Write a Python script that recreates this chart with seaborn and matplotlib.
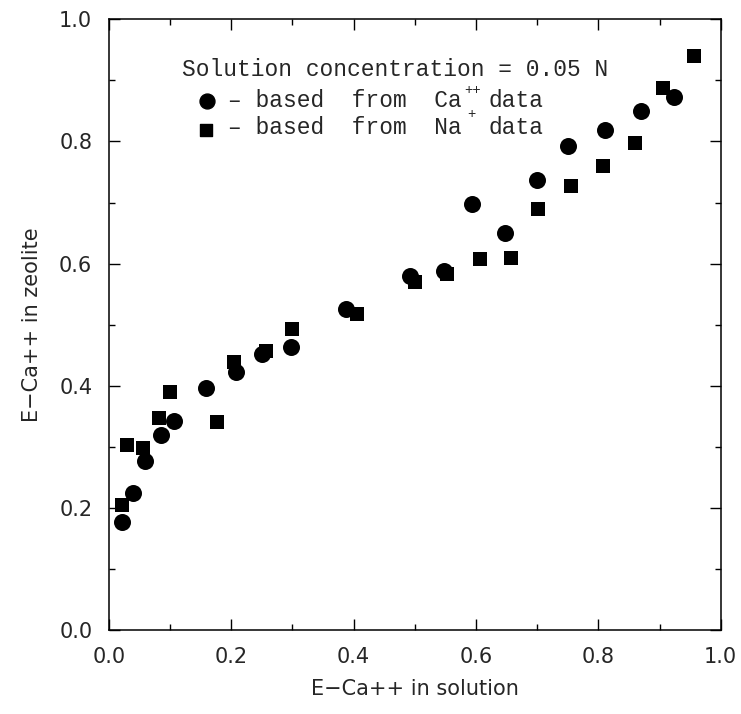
import matplotlib
matplotlib.use("Agg")
import matplotlib.pyplot as plt
from matplotlib.ticker import MultipleLocator
import seaborn as sns
import pandas as pd

# Data
ca_x = [0.022, 0.039, 0.059, 0.085, 0.106, 0.158, 0.207, 0.251, 0.298, 0.387,
        0.492, 0.547, 0.593, 0.647, 0.700, 0.751, 0.811, 0.869, 0.924]
ca_y = [0.177, 0.225, 0.277, 0.320, 0.342, 0.397, 0.423, 0.452, 0.463, 0.525,
        0.580, 0.588, 0.697, 0.650, 0.737, 0.793, 0.818, 0.850, 0.872]
na_x = [0.021, 0.029, 0.055, 0.082, 0.100, 0.177, 0.204, 0.256, 0.300, 0.405,
        0.501, 0.552, 0.607, 0.658, 0.702, 0.755, 0.808, 0.860, 0.905, 0.957]
na_y = [0.205, 0.303, 0.298, 0.347, 0.390, 0.341, 0.439, 0.457, 0.493, 0.517,
        0.570, 0.583, 0.607, 0.609, 0.689, 0.727, 0.760, 0.798, 0.888, 0.940]

x_ticks = [0.0, 0.2, 0.4, 0.6, 0.8, 1.0]
y_ticks = [0.0, 0.2, 0.4, 0.6, 0.8, 1.0]
x_label = "E\u2212Ca++ in solution"
y_label = "E\u2212Ca++ in zeolite"
legend_title = "Solution concentration = 0.05 N"

sns.set_style("ticks")
plt.rcParams["font.family"] = ["DejaVu Sans"]

fig = plt.figure(figsize=(7.41, 7.14), dpi=100)
ax = fig.add_axes([0.147, 0.1176, 0.8256, 0.8554])

ca_df = pd.DataFrame({"x": ca_x, "y": ca_y})
na_df = pd.DataFrame({"x": na_x, "y": na_y})
sns.scatterplot(data=ca_df, x="x", y="y", marker="o", s=150, color="black",
                edgecolor="black", linewidth=0, ax=ax, legend=False, zorder=3)
sns.scatterplot(data=na_df, x="x", y="y", marker="s", s=90, color="black",
                edgecolor="black", linewidth=0, ax=ax, legend=False, zorder=3)

ax.set_xlim(0, 1)
ax.set_ylim(0, 1)
ax.set_xticks(x_ticks)
ax.set_yticks(y_ticks)
ax.set_xticklabels([f"{v:.1f}" for v in x_ticks])
ax.set_yticklabels([f"{v:.1f}" for v in y_ticks])
ax.xaxis.set_minor_locator(MultipleLocator(0.1))
ax.yaxis.set_minor_locator(MultipleLocator(0.1))
ax.tick_params(which="both", direction="in", top=True, right=True,
               color="black", width=1.0)
ax.tick_params(which="major", length=8, labelsize=15, pad=12)
ax.tick_params(which="minor", length=4)
for sp in ax.spines.values():
    sp.set_visible(True)
    sp.set_color("black")
    sp.set_linewidth(1.1)

ax.set_xlabel(x_label, fontsize=15, labelpad=9)
ax.set_ylabel(y_label, fontsize=15, labelpad=12)

# Legend block drawn as text
mono = ["Liberation Mono"]
fs = 16.5
ax.text(0.119, 0.907, legend_title, fontsize=fs, family=mono, ha="left",
        va="baseline")
ax.scatter([0.160], [0.866], marker="o", s=115, color="black", zorder=4)
ax.scatter([0.159], [0.818], marker="s", s=65, color="black", zorder=4)
ax.text(0.195, 0.856, "\u2013 based  from  Ca", fontsize=fs, family=mono,
        ha="left", va="baseline")
ax.text(0.580, 0.878, "++", fontsize=10, family=mono, ha="left",
        va="baseline")
ax.text(0.620, 0.856, "data", fontsize=fs, family=mono, ha="left",
        va="baseline")
ax.text(0.195, 0.812, "\u2013 based  from  Na", fontsize=fs, family=mono,
        ha="left", va="baseline")
ax.text(0.586, 0.838, "+", fontsize=10, family=mono, ha="left",
        va="baseline")
ax.text(0.620, 0.812, "data", fontsize=fs, family=mono, ha="left",
        va="baseline")

fig.savefig("out.png", dpi=100)
